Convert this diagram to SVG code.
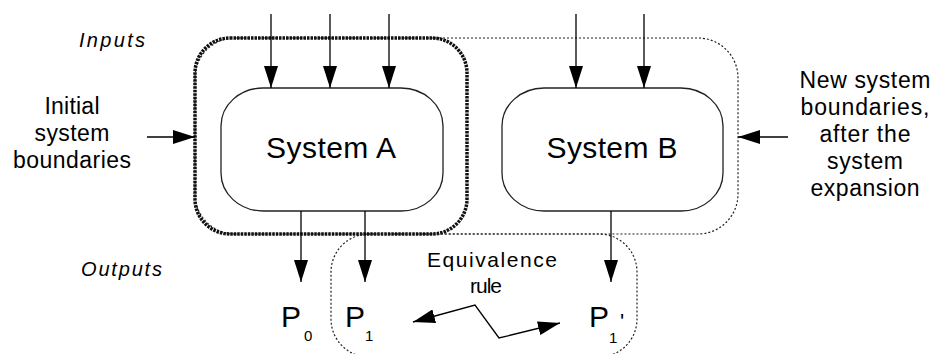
<svg xmlns="http://www.w3.org/2000/svg" width="933" height="354" viewBox="0 0 933 354">
<defs>
<style>
text{font-family:"Liberation Sans",Arial,sans-serif;fill:#000}
.sys{fill:#fff;stroke:#222;stroke-width:1.3}
.lbl{font-size:23px;text-anchor:middle}
.big{font-size:30px;text-anchor:middle}
.ital{font-size:20px;font-style:italic}
.p{font-size:30px}
.sub{font-size:15px}
.thick{fill:none;stroke:#111;stroke-width:3.5;stroke-dasharray:2.5 1}
.thin{fill:none;stroke:#222;stroke-width:1.2;stroke-dasharray:2 2}
.arr{fill:none;stroke:#000;stroke-width:1.3;marker-end:url(#ah)}
</style>
<marker id="ah" viewBox="0 0 22 14" refX="22" refY="7" markerWidth="22" markerHeight="14" markerUnits="userSpaceOnUse" orient="auto-start-reverse">
<path d="M0,0 L22,7 L0,14 Z" fill="#000"/>
</marker>
</defs>
<rect width="933" height="354" fill="#fff"/>

<g id="boundary-new">
<rect class="thin" x="195" y="38" width="543" height="196" rx="40" ry="40"/>
</g>
<g id="boundary-initial">
<rect class="thick" x="195" y="38" width="272" height="196" rx="35" ry="35"/>
</g>
<g id="boundary-outputs">
<rect class="thin" x="331" y="234" width="306" height="123" rx="38" ry="38"/>
</g>

<g id="system-a">
<rect class="sys" x="221" y="88" width="222" height="123" rx="42" ry="38"/>
<text class="big" x="331" y="158" textLength="130" lengthAdjust="spacing">System A</text>
</g>
<g id="system-b">
<rect class="sys" x="502" y="88" width="221" height="123" rx="42" ry="38"/>
<text class="big" x="612" y="158" textLength="131" lengthAdjust="spacing">System B</text>
</g>

<g id="connectors">
<path class="arr" d="M271,14 V88"/>
<path class="arr" d="M330,14 V88"/>
<path class="arr" d="M389,14 V88"/>
<path class="arr" d="M576,14 V88"/>
<path class="arr" d="M644,14 V88"/>
<path class="arr" d="M301,211 V282"/>
<path class="arr" d="M365,211 V282"/>
<path class="arr" d="M611,211 V282"/>
<path class="arr" d="M147,137 H195"/>
<path class="arr" d="M788,137 H738"/>
<path class="arr" style="marker-start:url(#ah)" d="M413,322 L475,305 L499,338 L560,323"/>
</g>

<g id="label-inputs">
<text class="ital" x="79" y="47" textLength="66" lengthAdjust="spacing">Inputs</text>
</g>
<g id="label-outputs">
<text class="ital" x="81" y="276" textLength="81" lengthAdjust="spacing">Outputs</text>
</g>
<g id="label-initial">
<text class="lbl" x="72" y="114" textLength="55" lengthAdjust="spacing">Initial</text>
<text class="lbl" x="72" y="141" textLength="75" lengthAdjust="spacing">system</text>
<text class="lbl" x="72" y="168" textLength="118" lengthAdjust="spacing">boundaries</text>
</g>
<g id="label-new">
<text class="lbl" x="865" y="88" textLength="131" lengthAdjust="spacing">New system</text>
<text class="lbl" x="865" y="115" textLength="129" lengthAdjust="spacing">boundaries,</text>
<text class="lbl" x="865" y="142" textLength="91" lengthAdjust="spacing">after the</text>
<text class="lbl" x="865" y="169" textLength="76" lengthAdjust="spacing">system</text>
<text class="lbl" x="865" y="196" textLength="109" lengthAdjust="spacing">expansion</text>
</g>
<g id="label-equivalence">
<text class="lbl" x="492" y="267" style="font-size:21px" textLength="130" lengthAdjust="spacing">Equivalence</text>
<text class="lbl" x="486" y="293" style="font-size:21px" textLength="32" lengthAdjust="spacing">rule</text>
</g>

<g id="p0">
<text class="p" x="281" y="327">P</text>
<text class="sub" x="304" y="341">0</text>
</g>
<g id="p1">
<text class="p" x="345" y="327">P</text>
<text class="sub" x="365" y="341">1</text>
</g>
<g id="p1-prime">
<text class="p" x="589" y="327">P</text>
<text class="sub" x="609" y="343">1</text>
<text class="p" x="620" y="329" style="font-size:22px">'</text>
</g>
</svg>
